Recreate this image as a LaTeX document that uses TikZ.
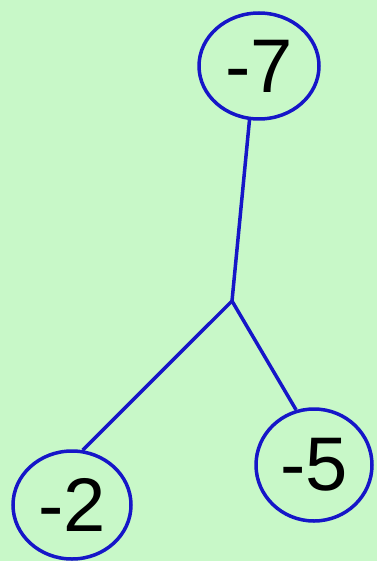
\documentclass[tikz,border=0pt]{standalone}
\usepackage{fontspec}
\setmainfont{Liberation Sans}
\usetikzlibrary{shapes.geometric}
\definecolor{bg}{RGB}{200,248,200}
\definecolor{edgeblue}{RGB}{22,22,200}
\tikzset{
  leaf/.style={ellipse, draw=edgeblue, line width=3.5pt, fill=bg, inner sep=0pt,
    font=\fontsize{76}{76}\selectfont, text=black},
  link/.style={draw=edgeblue, line width=3.5pt}
}
\begin{document}
\begin{tikzpicture}[x=1pt,y=-1pt]
\fill[bg] (0,0) rectangle (377,561);
\useasboundingbox (0,0) rectangle (377,561);
\node[leaf, minimum width=120pt, minimum height=106pt] (n7) at (259,66) {-7};
\node[leaf, minimum width=116pt, minimum height=112pt] (n5) at (314,465) {-5};
\node[leaf, minimum width=118pt, minimum height=108pt] (n2) at (72,505) {-2};
\coordinate (j) at (232,301);
\draw[link] (n7.260) -- (j);
\draw[link] (j) -- (n5.108);
\draw[link] (j) -- (n2.79);
\end{tikzpicture}
\end{document}
